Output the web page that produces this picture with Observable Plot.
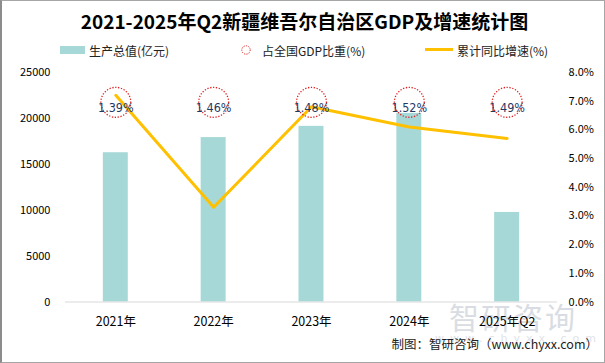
<!DOCTYPE html>
<html>
<head>
<meta charset="utf-8">
<script src="https://cdn.jsdelivr.net/npm/d3@7"></script>
<script src="https://cdn.jsdelivr.net/npm/@observablehq/plot@0.6"></script>
<style>
  html, body { margin: 0; padding: 0; background: #fff; }
  #wrap { position: relative; width: 605px; height: 363px; box-sizing: border-box; border: 1px solid #a6a6a6; border-left: 2px solid #8c8c8c; overflow: hidden; font-family: "Noto Sans CJK SC", "Microsoft YaHei", sans-serif; }
  #chart { position: absolute; left: -2px; top: -1px; }
  .abs { position: absolute; white-space: nowrap; }
  #title { left: 0; width: 605px; top: 6px; text-align: center; font-size: 19px; font-weight: bold; color: #000; }
  .leg { font-size: 12px; color: #222; top: 41px; }
  #wm1 { left: 447px; top: 293px; font-size: 30px; color: #d9dde3; letter-spacing: 2px; }
  #wm2 { left: 433px; top: 331px; font-size: 11px; color: #e0e3e8; letter-spacing: 6px; font-family: "DejaVu Sans", sans-serif; }
  #caption { right: 6px; top: 333px; font-size: 12.5px; color: #222; }
</style>
</head>
<body>
<div id="wrap">
  <div id="wm1" class="abs">智研咨询</div>
  <div id="wm2" class="abs">www.chyxx.com</div>
  <div id="chart"></div>
  <div id="title" class="abs">2021-2025年Q2新疆维吾尔自治区GDP及增速统计图</div>
  <div class="abs leg" style="left:58px;top:45px;width:25px;height:8px;background:#a5d8d6"></div>
  <div class="abs leg" style="left:87px;">生产总值(亿元)</div>
  <svg class="abs" style="left:238px;top:43px" width="12" height="12"><circle cx="6" cy="6" r="4.2" fill="none" stroke="#e02020" stroke-width="1" stroke-dasharray="1.2,1.2"/></svg>
  <div class="abs leg" style="left:260px;">占全国GDP比重(%)</div>
  <div class="abs leg" style="left:423px;top:47px;width:28px;height:3px;background:#ffc000"></div>
  <div class="abs leg" style="left:455px;">累计同比增速(%)</div>
  <div id="caption" class="abs">制图：智研咨询（www.chyxx.com）</div>
</div>
<script>
const years = ["2021年", "2022年", "2023年", "2024年", "2025年Q2"];
const gdp = [16250, 17900, 19125, 20534, 9750];
const share = [1.39, 1.46, 1.48, 1.52, 1.49];
const growth = [7.2, 3.3, 6.8, 6.1, 5.7];
const leftTicks = [0, 5000, 10000, 15000, 20000, 25000];
const rightTicks = [0, 1, 2, 3, 4, 5, 6, 7, 8];

const leftMax = 25000, rightMax = 8;
const toLeft = v => v * leftMax / rightMax;
const data = years.map((y, i) => ({year: y, gdp: gdp[i], share: share[i], growth: growth[i]}));

const chart = Plot.plot({
  width: 605,
  height: 363,
  marginTop: 72,
  marginBottom: 61,
  marginLeft: 65,
  marginRight: 47,
  style: {fontFamily: "'Noto Sans CJK SC', sans-serif", fontSize: "11px", color: "#000", background: "transparent", overflow: "visible"},
  x: {domain: years, paddingInner: 0.75, paddingOuter: 0.375, label: null},
  y: {domain: [0, leftMax], label: null},
  marks: [
    Plot.barY(data, {x: "year", y: "gdp", fill: "#a5d8d6"}),
    Plot.ruleY([0], {stroke: "#d9d9d9", strokeWidth: 1}),
    Plot.axisY({anchor: "left", ticks: leftTicks, tickSize: 0, tickPadding: 15, tickFormat: d => String(d), label: null, fontSize: 11}),
    Plot.axisY({anchor: "right", ticks: rightTicks.map(toLeft), tickSize: 0, tickPadding: 11, tickFormat: d => (d / leftMax * rightMax).toFixed(1) + "%", label: null, fontSize: 11}),
    Plot.axisX({tickSize: 0, tickPadding: 15, label: null, fontSize: 12.5}),
    Plot.line(data, {x: "year", y: d => toLeft(d.growth), stroke: "#ffc000", strokeWidth: 3}),
    Plot.dot(data, {x: "year", frameAnchor: "top", dy: 30, r: 15, fill: "white", fillOpacity: 0, stroke: "#e02020", strokeWidth: 1.3, strokeDasharray: "1.3,1.6"}),
    Plot.text(data, {x: "year", frameAnchor: "top", dy: 31, text: d => d.share.toFixed(2) + "%", fill: "#1f3864", fontSize: 12.5, fontFamily: "'DejaVu Sans Condensed', 'DejaVu Sans', sans-serif"})
  ]
});
document.getElementById("chart").appendChild(chart);
</script>
</body>
</html>
